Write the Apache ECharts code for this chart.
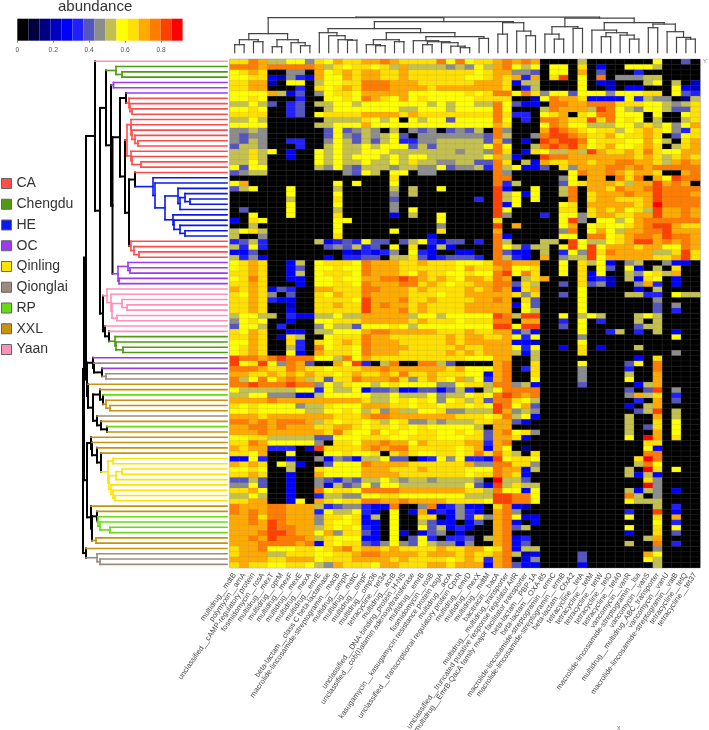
<!DOCTYPE html>
<html>
<head>
<meta charset="utf-8">
<style>html,body{margin:0;padding:0;background:#fff}#main{width:709px;height:730px}</style>
<script src="https://cdn.jsdelivr.net/npm/echarts@6/dist/echarts.min.js"></script>
</head>
<body>
<div id="main"></div>
<script>
// abundance bins, one hex digit per cell (0 = lowest bin, e = highest)
const binColors = ['#000000','#000040','#000080','#0000c0','#0000ff','#2020ff','#5555c0','#8c8c8c','#c4c050','#ffff00','#ffe000','#ffaa00','#ff7c00','#ff4000','#ff0000'];
const scaleMax = 0.92;
const scaleTicks = [0, 0.2, 0.4, 0.6, 0.8];

const genes = [
  'multidrug__mdtB','polymyxin__arnA','unclassified__cAMP-regulatory protein','fosmidomycin__rosA','multidrug__mexT',
  'multidrug__oprM','multidrug__mexF','multidrug__mexE','multidrug__mexA','multidrug__emrE',
  'beta-lactam__class C beta-lactamase','macrolide-lincosamide-streptogramin__macB','multidrug__ompR','multidrug__mdtC','multidrug__ompF',
  'multidrug__omp36','tetracycline__tet34','multidrug__acrB','unclassified__DNA-binding_protein_H-NS','unclassified__cob(I)alamin adenosyltransferase',
  'multidrug__emrB','fosmidomycin__rosB','kasugamycin__kasugamycin resistance protein ksgA','multidrug__acrA','unclassified__transcriptional regulatory protein CpxR',
  'multidrug__emrD','multidrug__mexX','multidrug__mdtM','bacitracin__bacA','multidrug__multidrug_transporter',
  'unclassified__truncated putative response regulator ArlR','multidrug__EmrB-QacA family major facilitator transporter','beta-lactam__PBP-1A','beta-lactam__OXA-85','macrolide-lincosamide-streptogramin__ermC',
  'macrolide-lincosamide-streptogramin__ermB','beta-lactam__CfxA2','tetracycline__tetA','tetracycline__tetM','tetracycline__tetW',
  'tetracycline__tetO','tetracycline__tet40','vancomycin__vanR','macrolide-lincosamide-streptogramin__lsa','vancomycin__vanS',
  'multidrug__multidrug_ABC_transporter','vancomycin__vanU','macrolide-lincosamide-streptogramin__vatB','tetracycline__tetQ','tetracycline__tet37'
];

const groupNames = ['CA','Chengdu','HE','OC','Qinling','Qionglai','RP','XXL','Yaan'];
const groupColors = ['#ff4d4d','#4f9a0e','#0a1aef','#9a3bf0','#ffe400','#9c8c7c','#66dd10','#c8920e','#ff90b8'];
// leaf colours down the rows: [group, how many rows]
const rowGroupRuns = [
  ['Yaan',1],['Chengdu',3],['OC',3],['CA',15],['HE',12],['CA',4],['OC',5],['Yaan',9],['Chengdu',4],
  ['OC',1],['Qionglai',1],['OC',1],['Qionglai',2],['XXL',2],['RP',1],['XXL',3],['Qionglai',1],['XXL',1],['RP',1],['XXL',5],
  ['Qinling',9],['XXL',2],['RP',4],['XXL',3],['Qionglai',3]
];

// first 25 columns of the heatmap, row by row, in blocks of four
const cellsLeft = [
'aacb 8899 7a9b aabb cbaa aac9 c','cccb cccc cb8a 9aa9 a8b8 8887 8','9aba 0077 0b9a babb aaba aaaa a','99aa 4375 4b99 babb aaba aaaa a',
'aabb 3099 0899 aacc cbbb aaaa a','aabb 0005 0a9a bacc cbbb babb b','9999 b846 079a a9bb bbb9 9999 9','99a9 0005 0099 a9cb a9b9 a999 9',
'8898 6056 0889 9899 9999 9898 9','99a9 0056 0089 9999 9988 9998 9','aaaa 0056 09aa aabb bbab aaaa a','8898 0000 0088 88a9 8909 8996 9',
'9999 0000 0889 99b9 9999 9999 9','7787 0000 0069 6787 0807 6706 7','7677 0000 0069 7687 8960 7777 7','7687 0055 0079 8686 8955 7788 8',
'6887 0005 0089 8898 9996 8688 8','88a8 9040 0989 8899 9888 8888 7','88a8 0040 0989 8999 8989 9888 8','8898 0000 0989 8898 898a 8877 8',
'9699 0000 0879 7688 8788 7796 7','6788 0000 0000 7698 0990 7700 0','0000 0000 0000 0000 0a00 0000 0','9b00 0000 0009 0900 0900 0000 0',
'6890 0090 0008 0000 0808 0090 0','0000 0090 0009 0000 0708 0000 0','0000 0080 000a 0000 0600 0000 0','0000 0090 0009 0000 0700 0000 0',
'0600 0090 0008 0000 0709 0000 0','0090 0090 000a 0000 0408 0090 0','40a9 0000 0009 9000 0000 0090 0','0080 0000 0009 0000 0000 0070 0',
'89a8 0000 0009 0000 0900 00a0 0','8007 0000 000a 0000 0000 0400 0','5685 0000 0845 6596 6068 9546 6','8595 0000 0067 6856 090a 0484 0',
'4460 0000 0000 4354 5709 5400 4','8574 0000 0040 5566 088a 6456 6','9aba 0048 09aa a9cb bbaa baaa 9','9aba 0046 099a 99cb bbaa aaaa 9',
'aaba 0048 09aa a9cb bba9 baa9 9','9aca 0044 099a 99bb ccdc baba 9','aaba 0004 099a a9cb bbcc aba9 a','baba 4650 0bba aacc bbba baaa a',
'a9ba 7060 0a9b aacb bbba aa9a a','aaba 5440 0aaa a9db bbca abaa a','aaba 0030 0aab aadb cbba baaa a','aaba 0040 0aaa aadb bbca baaa a',
'8998 8054 4889 88bb bbb8 9989 9','79a9 0040 099a aabb bbba baaa 9','6998 0500 0798 8699 9a98 9999 9','a9ba 0044 0889 99bc cbbb bbaa a',
'aaba 03a8 009a aacb baaa aaab a','99ba 00a5 0a9a bacb bbaa aaab a','9aba 0085 0c9a a9cb bbba aaaa b','9aba 0094 0baa a9cb bbaa aaab a',
'dccb cdcc c998 c9ba aaaa aaaa a','d9ad 97cb 600b 9d50 8c00 cc86 0','cccb aacb aa9a aabb cbbb bbba b','bbaa baba baa9 abaa baca abaa a',
'c89c 9bcb 8a6a acbb bca7 aba9 b','ccdc ccdc c798 a998 9a99 9977 9','9888 8889 9598 8946 6744 6646 8','8899 7774 4899 9998 8988 8978 8',
'bbbb cbbb bbbb bba8 89a9 a979 a','a9a9 9997 88a9 99bb baa9 aa9a a','99a9 9999 8899 a98a 7b88 99a7 7','bbba bbbb bbba aabc cbbb bbbb a',
'ccbc bccc b8a9 aa9a 89a7 7878 8','bbcc bcbb baab ba9a a9a9 a999 9','bbbc bbbb bbac a99b 9a99 aa99 a','99aa 8888 8669 99aa a99a aa99 9',
'aacb 9999 970a a9bb cbb9 baaa a','babb 5550 3daa aabc bcca aaaa 9','aa9b 0090 0099 a99a 0aba 99aa 9','4495 0040 0747 6488 9660 4597 9',
'baba 0984 0069 99cb bbba aaaa a','99a9 0080 0a99 99bb baaa baaa a','aaba 0040 0b99 99bb bbaa aaaa a','6686 0040 0765 7688 9878 8788 8',
'7796 0040 0748 6797 9988 8888 8','aab9 0040 0c9a a9cc ccbb bbbb b','8898 0040 0588 7799 aa99 9999 9','aabb 0049 0ba9 aacc bbcb bbba a',
'cbbb ccbb b856 7754 4c00 7c45 7','cbcb ccbb b598 8954 0904 b454 7','bbca ccbb b7aa 9a48 0900 aa04 7','bbcb dcbb b7a9 9a44 0900 8644 0',
'bbbb dccb b8a9 a954 0900 9684 5','bbbc ddcb b9b7 aa64 0940 4670 4','bbcb dccc b8a9 9944 0906 9505 5','bbbc cccb c4a9 aa65 7976 9877 4',
'abbc 999a a9ab cabb abaa aaba a','abbb 88aa a99a abcc bbbb abbb a','bbbb aabb b9aa abbb baba aaa9 a','abaa 99aa 987b aaa9 bbaa abba b'
].map(s => s.replace(/ /g, ''));

// last 25 columns of the heatmap, row by row, in blocks of 8, 5, 4, 4, 4
const cellsRight = [
'9aabcbcb 00008 0000 0009 0060','798bc989 0990a 0400 9998 0000','a9abb776 0990b 0600 0500 0000','99abab5b 0ad09 0c07 7788 0000',
'abbba488 00009 0430 0089 0803','bbbba058 00009 0030 4400 0943','a9acc9ca 79969 9979 99aa 0965','9aaaa003 9cbba 4444 9587 7028',
'988c9644 0ccbb ccca aa99 878a','999c9000 8cbbb 8dc9 8799 866a','aaaca550 9ab0a 9cc9 9909 009a','999c9050 ccbaa dac9 a908 008a',
'999ba000 9cb99 8889 98a8 979b','680c7000 bdcba 9aa8 9aba 975a','776c8007 cddcb aab9 aaba 069a','886b6040 dcddc 9aaa 99b9 80ab',
'889c9008 cdcdb 9ab9 9aba 08ab','887ca04a 988b8 dbaa baca 99bb','889b8400 dccbb bbbb baba 8aba','866ca084 baabb abbc cbba 8bcb',
'785c8944 60a7b bbcc bcbc cccc','000c7000 0009c bbcb abba 00bc','000cc000 00790 bb0c ac0b 9dcc','000c5800 0069a bbba 8bbd bcb0',
'000d4009 008c0 bbac bbcd cccc','000d8949 008c0 abbb cbbd cccb','050d8909 000c0 abba aabd cccc','000d4900 009a0 bbbb babe cccc',
'000d9000 00aa0 abab 9a8d bbcb','000d7000 50997 abba abbd bbcb','000a0000 009d7 0998 9bcc cccc','000d0b00 009b0 9a99 abcd dbaa',
'000b0000 007c0 9b98 bbcc dbbb','000c4000 00990 cc9a bccb dccb','050c8000 880d9 889a bddb cbcb','000c9858 809d9 d9bb babb 99cb',
'400c6440 80597 dacb bbb8 8ada','650c8540 b0788 d9bb bbba abda','99accbbb 0090a 8940 7800 7440','baabc99a 0090a 0960 9408 0a00',
'a99cd9ca 0090a 4900 879a 8b00','bbacb08a b000a 4530 84a9 0400','abbcc6a8 0060a 6730 07b5 0400','babcb4ab 00009 0000 0408 0000',
'bbbbba7a 00609 0000 8855 0988','abbcb0a6 00009 0000 0007 0000','bbbbb496 00009 0000 0006 0700','bbbbb098 00009 0000 0006 0500',
'999dc8dd 00908 9800 0898 0000','aaacc0bb 00509 0500 0808 0000','999dd9dd 00609 0000 0688 0000','baabb574 00009 0058 0508 0400',
'bbaab959 00007 0000 0000 0900','bbbbb443 00009 0000 0000 0000','aabbb959 0040a 0400 0800 0000','babbb848 0000a 0000 0000 0700',
'999bb008 00000 0000 040a 0000','000bc00a 00009 0000 690c 0000','999bc05a 00007 0000 500c 0000','994bc00a 00007 0000 800b 0000',
'895bc009 00007 0000 900b 0000','aa8cc784 00006 0000 048b 0000','5089cccc 00000 0000 606d 0700','9a9cdcbc 00000 0000 7b8a 0500',
'8a6cca98 00000 0000 050b 0600','9a9dc9b6 00000 0000 408b 0000','888db787 00000 0000 068d 0800','aa9ac894 00000 0000 800b 0800',
'8aabb640 00000 0000 800a 0900','980bb000 00000 0000 806a 0900','9a6bc9a7 00000 0000 800b 0900','aa6bba40 00000 0000 90eb 0a00',
'bb5bc000 00000 0000 00aa 0000','ab4b9020 00000 0000 0094 0000','acaca80a 00000 0000 00cc 0000','554d9aa9 00000 0000 0aec 0000',
'b77ccaa7 00000 0000 08c9 0000','999cbb48 00000 0000 80ea 0900','9aacba40 00000 0000 8484 0000','870e8860 00000 0000 00a7 0000',
'964d8a88 00000 0000 00e7 0000','aa8c9949 00000 0000 8487 0400','888ddcc9 00000 0000 c807 0000','aa9ddcc9 00000 0000 9888 0000',
'440ac430 00000 0000 0008 0500','540bc700 00000 0000 500d 0400','5a7bc944 00000 0000 900a 0b00','460bc404 00000 0000 0009 0500',
'400bc680 00000 0000 900a 0900','000bc000 00000 0000 400a 0600','608bc450 00000 0000 008b 0000','700bc460 00000 0000 800c 0500',
'bb9ac488 00000 0000 0007 0000','baabc834 00006 0000 00b9 0000','ba5bc047 00006 0000 0098 0000','bb4bc644 00004 0000 0008 0000'
].map(s => s.replace(/ /g, ''));

// column dendrogram: leaf = column index, node = [height, ...children]
const colTree = [35.5,
  [35,
    [19, [13, [8, 0, 1], [11, 2, 3]], [13, [6, 4, 5], [10, 6, [7, 7, 8]]]],
    [31,
      [24,
        [20, 9, [17, 10, [13, 11, [12.5, 12, 13]]]],
        [20,
          [13, [8, 14, [7, 15, 16]], [11, 17, 18]],
          [16, [12, 19, [11, [8, 20, 21], [10, 22, [6.5, 23, [5, 24, 25]]]]], [14.3, 26, 27]]]],
      [30, [18.6, 28, 29], [21.6, 30, [17, 31, 32]]]]],
  [34.5,
    [26, [18.6, 33, [13.6, 34, 35]], [24.3, 36, 37]],
    [30,
      [22.6, 38, [20, [16, 39, 40], [17.6, 41, [13.6, 42, 43]]]],
      [28.6, [25, 44, 45], [21, 46, [15.3, 47, [13.6, 48, 49]]]]]]
];

// row dendrogram: leaf = row index, node = [height, ...children]
const heTree = [74, 22, [72, 23, [62, [49, 24, [47, [42, 25, [37, 26, 27]], 28]], [54, 29, [53, 30, [47, 31, [42, 32, 33]]]]]]];
const qinlingTree = [119, [114, 75, 76], [118, [111, [105, 77, 78], 79], [116, 80, [114, 81, [112, 82, 83]]]]];
const rowTree = [144,
  [143,
    [141,
      [132, 0,
        [127,
          [121,
            [111, 1, [105, 2, 3]],
            [116,
              [113.5, 4, 5],
              [114.5,
                [107,
                  [101, 6, [98, 7, [97, 8, [95, 9, 10]]]],
                  [102,
                    [100,
                      [96, 11, [96, 12, [95, 13, [92, 14, [89, 15, 16]]]]],
                      [96, 17, [95, 18, [86, 19, 20]]]],
                    [98, [92, 21, heTree], [96, 34, [93, 35, [88, 36, 37]]]]]],
                [109, [99, 38, [97, 39, 40]], [108, 41, 42]]]]],
          [124,
            [120, 43, [116, 44, [115, [105, 45, [100, 46, 47]], [110, 48, 49]]]],
            [122, 50, [118, 51, [112, 52, [111, 53, [104, 54, 55]]]]]]]],
      [140,
        [134, 56, [133, 57, [125, 58, [121, 59, 60]]]],
        [139, 61,
          [134,
            [127, 62, [124, 63, [121, 64, [117, 65, 66]]]],
            [130, 67, [126, 68, [120, 69, 70]]]]]]],
    [140,
      [136, 71, [135, 72, [130, 73, [126, 74, qinlingTree]]]],
      [136, 84, [135, [130, 85, [129, 86, [127, 87, [117, 88, 89]]]], [131, 90, 91]]]]],
  [141, 92, [130, 93, [127, 94, 95]]]
];

const rowGroups = [];
rowGroupRuns.forEach(run => { for (let i = 0; i < run[1]; i++) rowGroups.push(run[0]); });

let rowIds = [];
let heatData = [];
const binWidth = scaleMax / binColors.length;
cellsLeft.forEach((s, r) => {
  const line = s + cellsRight[r];
  rowIds.push(String(r + 1));
  for (let c = 0; c < line.length && c < genes.length; c++) {
    heatData.push([c, r, (parseInt(line[c], 16) + 0.5) * binWidth]);
  }
});

// walk a tree, leaf sits at index + 0.5, node at the middle of first and last child
function layoutTree(node, leafGroup, out) {
  if (typeof node === 'number') {
    return { h: 0, p: node + 0.5, group: leafGroup ? leafGroup[node] : null };
  }
  const kids = node.slice(1).map(k => layoutTree(k, leafGroup, out));
  const h = node[0];
  const p = (kids[0].p + kids[kids.length - 1].p) / 2;
  const group = kids.every(k => k.group === kids[0].group) ? kids[0].group : null;
  out.push({ group: group, seg: [h, kids[0].p, h, kids[kids.length - 1].p] });
  kids.forEach(k => out.push({ group: k.group, seg: [h, k.p, k.h, k.p] }));
  return { h: h, p: p, group: group };
}

const rowSegs = [];
layoutTree(rowTree, rowGroups, rowSegs);
const colSegs = [];
layoutTree(colTree, null, colSegs);

function segSeries(name, color, width, segs, gridIdx, flip) {
  return {
    name: name,
    type: 'custom',
    coordinateSystem: 'cartesian2d',
    xAxisIndex: gridIdx,
    yAxisIndex: gridIdx,
    silent: true,
    clip: false,
    itemStyle: { color: color },
    encode: { x: flip ? [1, 3] : [0, 2], y: flip ? [0, 2] : [1, 3] },
    data: segs,
    renderItem: function (params, api) {
      const a = flip ? api.coord([api.value(1), api.value(0)]) : api.coord([api.value(0), api.value(1)]);
      const b = flip ? api.coord([api.value(3), api.value(2)]) : api.coord([api.value(2), api.value(3)]);
      return {
        type: 'line',
        shape: { x1: a[0], y1: a[1], x2: b[0], y2: b[1] },
        style: { stroke: color, lineWidth: width, lineCap: 'square' }
      };
    }
  };
}

const fontName = '"Liberation Sans", Arial, sans-serif';

const binRanges = binColors.map((c, i) => [i * binWidth, (i + 1) * binWidth, i]);

const rowSeries = [segSeries('branch', '#000000', 2, rowSegs.filter(s => !s.group).map(s => s.seg), 3, false)];
groupNames.forEach((g, i) => {
  rowSeries.push(segSeries(g, groupColors[i], 1.6, rowSegs.filter(s => s.group === g).map(s => s.seg), 3, false));
});

const chart = echarts.init(document.getElementById('main'), null, { renderer: 'canvas' });
chart.setOption({
  animation: false,
  backgroundColor: '#fff',
  textStyle: { fontFamily: fontName },
  title: [
    { text: 'abundance', left: 58, top: -1, padding: 0, textStyle: { fontSize: 15, fontWeight: 'normal', color: '#333', fontFamily: fontName } },
    { text: 'Y', left: 703, top: 58, padding: 0, textStyle: { fontSize: 6, fontWeight: 'normal', color: '#777', fontFamily: fontName } },
    { text: 'x', left: 617, top: 725, padding: 0, textStyle: { fontSize: 7, fontWeight: 'normal', color: '#777', fontFamily: fontName } }
  ],
  legend: {
    orient: 'vertical',
    left: 1,
    top: 176.5,
    padding: 0,
    itemWidth: 10,
    itemHeight: 10,
    itemGap: 6.75,
    icon: 'rect',
    selectedMode: false,
    data: groupNames,
    itemStyle: { borderColor: '#666', borderWidth: 1 },
    textStyle: { fontSize: 14, color: '#333', fontFamily: fontName }
  },
  grid: [
    // the long gene names run to the page bottom, keep the grid from shrinking for them
    { left: 230, top: 59.3, width: 470, height: 508.4, show: true, borderColor: '#999', borderWidth: 1, outerBoundsMode: 'none' },
    { left: 17.3, top: 18.7, width: 165.3, height: 22 },
    { left: 230, top: 16.7, width: 470, height: 36 },
    { left: 77, top: 58.6, width: 150, height: 508.4 }
  ],
  xAxis: [
    {
      gridIndex: 0, type: 'category', data: genes, position: 'bottom',
      axisTick: { show: false }, axisLine: { show: false }, splitLine: { show: false },
      axisLabel: { interval: 0, rotate: 55, fontSize: 7.5, color: '#444', margin: 6, hideOverlap: false, fontFamily: fontName }
    },
    {
      gridIndex: 1, type: 'value', min: 0, max: scaleMax,
      axisLine: { show: false }, splitLine: { show: false },
      axisTick: { show: true, length: 2, customValues: scaleTicks, lineStyle: { color: '#888' } },
      axisLabel: {
        fontSize: 6.7, color: '#555', margin: 6, fontFamily: fontName,
        customValues: scaleTicks,
        formatter: v => String(v)
      }
    },
    { gridIndex: 2, type: 'value', min: 0, max: 50, show: false },
    { gridIndex: 3, type: 'value', min: 0, max: 150, inverse: true, show: false }
  ],
  yAxis: [
    { gridIndex: 0, type: 'category', data: rowIds, inverse: true, show: false },
    { gridIndex: 1, type: 'value', min: 0, max: 1, show: false },
    { gridIndex: 2, type: 'value', min: 0, max: 36, show: false },
    { gridIndex: 3, type: 'value', min: 0, max: 96, inverse: true, show: false }
  ],
  visualMap: {
    type: 'piecewise',
    show: false,
    dimension: 2,
    seriesIndex: 0,
    pieces: binColors.map((c, i) => ({ gte: i * binWidth, lt: (i + 1) * binWidth, color: c }))
  },
  series: [
    {
      name: 'abundance',
      type: 'heatmap',
      xAxisIndex: 0,
      yAxisIndex: 0,
      silent: true,
      data: heatData,
      progressive: 0,
      itemStyle: { borderColor: 'rgba(130,130,130,0.28)', borderWidth: 0.5 }
    },
    {
      name: 'scale',
      type: 'custom',
      coordinateSystem: 'cartesian2d',
      xAxisIndex: 1,
      yAxisIndex: 1,
      silent: true,
      encode: { x: [0, 1] },
      data: binRanges,
      renderItem: function (params, api) {
        const a = api.coord([api.value(0), 1]);
        const b = api.coord([api.value(1), 0]);
        return {
          type: 'rect',
          shape: { x: a[0], y: a[1], width: b[0] - a[0], height: b[1] - a[1] },
          style: { fill: binColors[api.value(2)] }
        };
      }
    },
    segSeries('columns', '#444444', 1.2, colSegs.map(s => s.seg), 2, true)
  ].concat(rowSeries)
});
</script>
</body>
</html>
